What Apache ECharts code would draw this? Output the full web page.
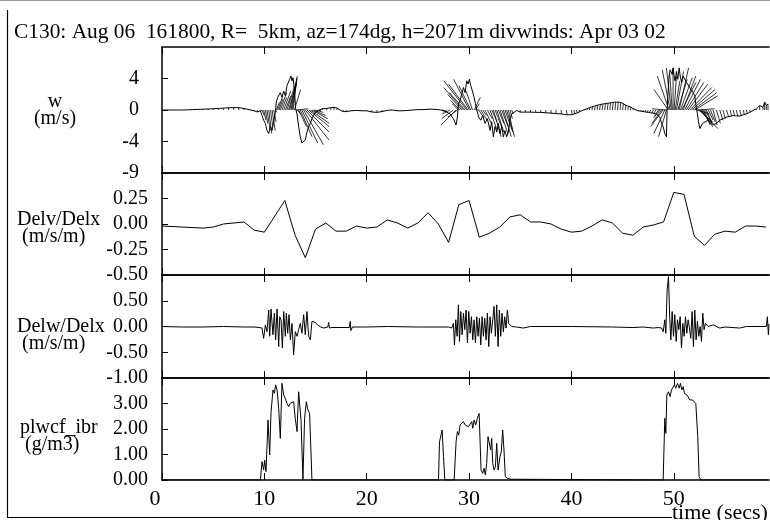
<!DOCTYPE html>
<html><head><meta charset="utf-8">
<script src="https://cdn.jsdelivr.net/npm/echarts@6/dist/echarts.min.js"></script>
<style>html,body{margin:0;padding:0;background:#fff}#c{width:770px;height:520px}</style>
</head><body><div id="c"></div><script>
const titleText = 'C130: Aug 06  161800, R=  5km, az=174dg, h=2071m divwinds: Apr 03 02';
const xTickValues = [0, 10, 20, 30, 40, 50];
const panelNames = ['w\n(m/s)', 'Delv/Delx\n (m/s/m)', 'Delw/Delx\n (m/s/m)', 'plwcf_ibr\n (g/m3)'];
const wTickValues = [-8, -4, 0, 4];
const wTickLabels = ['-9', '-4', '0', '4'];

// panel 1: [time s, w m/s, horizontal stick component m/s]
const wRows = [
[0,0,0],[0.5,0,0],[1,0,0],[1.5,0,0],[2,0,0],[2.5,0.02,0],[3,0.05,0],[3.5,0.08,0],[4,0.1,0],[4.5,0.13,0],[5,0.16,0],[5.5,0.2,0],[6,0.24,0],[6.5,0.28,0],[7,0.3,0],[7.5,0.3,0],[8,0.2,0],[8.5,0.05,0],[9,-0.1,0.1],[9.3,-0.25,0.1],
[9.61,-0.1,0.2],[9.77,-0.7,0.3],[9.93,-1.3,0.3],[10.1,-1.7,0.3],[10.26,-2.6,0.4],[10.42,-3.0,0.4],[10.59,-2.1,0.3],[10.75,-2.6,0.4],[10.91,-1.5,0.3],[11.07,-0.3,0.2],
[11.17,1.0,0.4],[11.3,1.6,0.6],[11.43,1.4,0.5],[11.56,2.2,0.8],[11.72,1.6,0.6],[11.89,2.4,0.9],[12.05,1.8,0.7],[12.21,3.1,1.0],[12.37,3.3,1.0],[12.47,3.9,0.9],[12.6,4.3,0.8],[12.7,3.7,0.6],[12.8,4.1,0.5],[12.93,2.6,0.8],[13.06,0.15,1.6],
[13.19,-0.5,0.5],[13.35,-2.1,1.0],[13.51,-3.4,1.5],[13.67,-4.2,2.0],[13.84,-4.4,2.5],[14.0,-3.8,3.0],[14.16,-2.8,2.8],[14.33,-2.1,2.6],[14.49,-1.7,2.4],[14.65,-1.1,2.0],[14.81,-0.7,1.5],[14.98,-0.3,1.0],
[15.3,-0.06,0.3],[15.63,0.15,0.1],[16.1,0.2,0],[16.5,0.3,0],[16.8,0.35,0],[17.1,0.25,0],[17.4,0.0,0],[17.7,-0.2,0],[18,-0.2,0],[18.5,-0.1,0],[19,-0.05,0],[19.5,-0.1,0],[20,-0.1,0],[20.5,-0.25,0],[21,-0.3,0],[21.5,-0.2,0],[22,-0.05,0],[22.5,0,0],[23,-0.1,0],[23.5,-0.1,0],[24,-0.05,0],[24.5,0,0],[25,0.05,0],[25.5,0.05,0],[26,0.1,0],[26.5,0.1,0],[27,0.05,0],
[27.17,0,0],[27.5,-0.06,-0.2],[27.82,-0.27,-0.5],[28.15,-0.5,-1.0],[28.47,-1.1,-1.5],[28.73,-1.9,-1.9],[28.86,-0.9,-1.2],
[28.96,0.8,-0.8],[29.12,1.2,-1.2],[29.29,2.0,-1.8],[29.45,2.85,-2.5],[29.61,2.2,-2.0],[29.77,3.7,-2.9],[29.9,3.3,-2.5],[30.03,3.9,-2.0],[30.16,3.1,-1.5],[30.33,2.4,-0.8],[30.49,1.6,0.8],[30.62,0.8,0.5],
[30.75,0,0.3],[30.94,-0.9,0.6],[31.14,-1.3,0.8],[31.33,-0.7,0.5],[31.56,-1.7,0.8],[31.79,-1.1,0.6],[32.05,-2.6,0.9],[32.21,-1.5,0.7],[32.37,-3.4,1.0],[32.54,-2.1,0.8],[32.7,-2.8,0.9],[32.86,-1.7,0.7],[33.02,-3.0,1.0],[33.19,-2.1,0.8],[33.35,-3.4,1.0],[33.51,-2.6,0.9],[33.67,-3.4,1.0],[33.84,-2.8,0.6],[34.0,-1.1,0.3],[34.16,-0.5,0.2],
[34.65,-0.06,0],[35.0,-0.27,0],[35.5,-0.27,0],[36,-0.27,0],[36.5,-0.3,0],[37,-0.3,0],[37.5,-0.35,0],[38,-0.4,0],[38.5,-0.45,0],[39,-0.5,0],[39.5,-0.6,0.1],[40,-0.6,0.1],[40.25,-0.5,0.1],[40.5,-0.4,0.1],[40.75,-0.25,0.1],
[41,-0.1,0.1],[41.25,0.05,0.1],[41.5,0.15,0.1],[41.75,0.3,0.1],[42,0.4,0.1],[42.25,0.5,0.1],[42.5,0.6,0.1],[42.75,0.68,0.1],[43,0.75,0.1],[43.25,0.8,0.1],[43.5,0.85,0.1],[43.75,0.9,0.1],[44,0.95,0.1],[44.25,1.0,0.1],[44.5,1.0,0.1],[44.75,0.98,0.1],[45,0.85,0.1],[45.25,0.65,0.1],[45.5,0.5,0.1],[45.75,0.4,0.1],[46,0.2,0.1],[46.25,0.05,0.1],[46.5,-0.1,0.1],[46.75,-0.15,0.1],[47,-0.2,0],[47.25,-0.25,0],[47.5,-0.3,-0.1],[47.75,-0.35,-0.2],[48,-0.4,-0.2],[48.25,-0.5,-0.3],[48.5,-0.7,-0.5],[48.65,-1.0,-0.8],
[48.8,-1.7,-1.2],[48.96,-2.1,-1.6],[49.12,-3.0,-1.4],[49.28,-3.4,-1.0],
[49.35,0.15,-1.9],[49.45,2.6,-1.8],[49.54,4.3,-1.5],[49.64,5.1,-1.0],[49.74,5.35,-0.6],[49.84,4.5,-0.3],
[49.93,5.35,0],[50.03,4.3,0.3],[50.13,3.7,0.6],[50.26,4.9,0.9],[50.39,3.9,1.2],[50.52,5.35,1.2],[50.65,4.1,1.5],[50.78,3.5,1.8],[50.91,4.3,1.6],[51.07,3.9,2.0],[51.24,3.5,2.2],[51.4,3.3,2.5],[51.56,2.85,2.8],[51.72,2.6,3.0],[51.89,2.2,3.0],[52.05,1.8,2.9],
[52.21,0.15,2.3],[52.31,-0.5,1.5],[52.41,-1.5,1.8],[52.54,-2.35,2.3],[52.67,-2.15,1.5],[52.8,-1.7,1.0],[52.93,-1.9,0.8],[53.06,-1.5,0.8],[53.19,-1.7,0.7],[53.38,-1.3,0.6],[53.58,-1.5,0.6],[53.84,-1.9,0.5],[54.16,-1.7,0.5],[54.49,-1.3,0.4],[54.8,-1.1,0.3],[55.14,-0.9,0.3],[55.5,-0.8,0.2],[55.79,-0.7,0.2],[56.1,-0.75,0.2],[56.44,-0.77,0.2],[56.8,-0.6,0.1],[57.09,-0.5,0.1],[57.4,-0.3,0.1],[57.74,-0.06,0],[58.07,0.15,0],[58.39,0.56,0],[58.72,0.35,0],[58.88,1.0,0],[59.04,0.56,0],[59.2,0.77,0]
];

// panel 2: Delv/Delx (m/s/m)
const delvData = [[0,-0.02],[2,-0.03],[4,-0.04],[5,-0.03],[6,0.0],[8,0.02],[9,-0.06],[10,-0.08],[12,0.23],[13,-0.11],[14,-0.33],[15,-0.05],[16,0.01],[17,-0.07],[18,-0.07],[19,-0.02],[20,-0.04],[21,-0.03],[22,0.04],[23,0.01],[24,-0.04],[25,0.01],[26,0.11],[27,0.0],[28,-0.18],[29,0.19],[30,0.23],[31,-0.13],[32,-0.09],[33,-0.03],[34,0.07],[35,0.09],[36,0.02],[37,0.02],[38,0.0],[39,-0.05],[40,-0.08],[41,-0.07],[42,-0.02],[43,0.04],[44,0.01],[45,-0.09],[46,-0.11],[47,-0.03],[48,-0.01],[49,0.02],[50,0.31],[51,0.29],[52,-0.12],[53,-0.21],[54,-0.10],[55,-0.07],[56,-0.08],[57,-0.02],[58,-0.02],[59,-0.03]];

// panel 3: Delw/Delx (m/s/m)
const delwData = [[0,0],[2,-0.01],[4,-0.01],[6,0],[8,-0.01],[9,-0.01],[9.5,-0.02],
[9.77,-0.03],[9.93,-0.23],[10.10,0.03],[10.26,-0.10],[10.42,0.32],[10.52,-0.19],[10.65,0.34],[10.84,-0.16],[10.98,0.26],[11.10,-0.26],[11.24,0.34],[11.40,-0.39],[11.50,0.19],[11.63,0.13],[11.76,-0.42],[11.89,0.29],[12.05,-0.19],[12.15,0.26],[12.28,-0.13],[12.41,0.23],[12.54,-0.26],[12.70,0.06],[12.86,-0.55],[13.02,-0.10],[13.19,-0.19],[13.35,-0.06],[13.51,0.06],[13.67,-0.13],[13.84,0.23],[14.00,-0.16],[14.16,0.29],[14.33,-0.19],[14.49,-0.26],[14.65,0.10],[14.81,0.13],[14.98,0.08],[15.2,0.03],[15.5,-0.01],[15.8,-0.03],
[16.2,-0.01],[16.28,0.08],[16.36,-0.03],[16.6,-0.02],[18.3,-0.02],[18.39,0.10],[18.45,-0.08],[18.6,-0.01],[20,-0.01],[22,0],[25,-0.01],[28,-0.01],
[28.31,-0.03],[28.47,0.06],[28.57,-0.36],[28.70,0.13],[28.83,-0.19],[28.96,0.42],[29.06,-0.29],[29.19,0.29],[29.32,-0.16],[29.45,0.26],[29.58,-0.06],[29.71,0.32],[29.84,-0.32],[29.97,0.29],[30.10,-0.13],[30.23,0.19],[30.36,-0.26],[30.49,0.13],[30.62,-0.32],[30.75,0.19],[30.88,-0.19],[31.01,0.16],[31.14,-0.36],[31.27,0.19],[31.40,-0.19],[31.53,0.16],[31.66,-0.26],[31.79,0.26],[31.92,-0.39],[32.05,0.19],[32.18,-0.13],[32.31,0.13],[32.44,0.39],[32.57,-0.19],[32.70,0.42],[32.83,-0.39],[32.96,0.32],[33.09,-0.19],[33.22,0.26],[33.35,-0.10],[33.48,0.19],[33.61,-0.03],[33.74,0.32],[33.87,0.06],[34.16,0.0],[34.65,-0.01],[35.3,-0.03],[36,0],[40,0],[44,-0.01],[46,-0.02],[47,-0.01],[48,-0.03],[48.5,-0.02],
[48.80,-0.03],[48.96,-0.10],[49.12,0.13],[49.22,-0.13],[49.35,0.71],[49.48,0.97],[49.61,0.13],[49.71,-0.26],[49.84,0.29],[49.97,-0.19],[50.10,0.23],[50.23,-0.29],[50.36,0.13],[50.49,-0.06],[50.62,0.19],[50.75,-0.42],[50.88,0.06],[51.01,-0.19],[51.14,0.19],[51.27,-0.13],[51.40,0.13],[51.53,-0.03],[51.66,-0.23],[51.79,0.29],[51.92,-0.39],[52.05,0.32],[52.18,-0.26],[52.31,0.10],[52.44,-0.19],[52.57,0.0],[52.70,-0.29],[52.83,0.26],[52.96,-0.06],[53.09,0.06],[53.35,0.0],[53.84,0.03],[54.49,-0.03],[55,-0.01],[56.44,-0.03],[57.09,0],[59.04,0],[59.14,0.19],[59.24,-0.16],[59.3,0.05]];

// panel 4: plwcf_ibr (g/m3)
const lwcData = [[0,0],[9.61,0],[9.77,0.72],[9.93,0.39],[10.03,0.78],[10.16,0.33],[10.36,2.35],[10.52,0.98],[10.65,2.64],[10.75,2.61],[10.84,3.53],[10.98,3.40],[11.10,3.73],[11.24,3.53],[11.40,2.81],[11.56,1.63],[11.72,3.79],[11.89,3.33],[12.05,3.2],[12.21,3.01],[12.37,2.88],[12.54,3.01],[12.70,2.94],[12.86,3.07],[13.02,2.42],[13.19,1.90],[13.35,3.46],[13.45,3.40],[13.58,2.35],[13.77,0],[13.87,0],[13.93,2.42],[14.10,3.07],[14.25,2.75],[14.33,2.68],[14.42,2.61],[14.65,0],
[27.01,0],[27.11,1.50],[27.24,1.57],[27.37,1.96],[27.50,0.92],[27.63,0],[28.54,0],[28.73,1.50],[28.86,1.90],[28.99,1.76],[29.12,2.16],[29.29,2.22],[29.45,2.29],[29.61,2.16],[29.77,2.22],[29.94,2.09],[30.1,2.16],[30.26,2.29],[30.36,2.03],[30.49,2.35],[30.65,2.16],[30.81,2.42],[30.98,2.61],[31.07,1.57],[31.17,0.39],[31.33,0.26],[31.46,0.46],[31.59,0.2],[31.72,0.65],[31.85,1.70],[31.98,1.63],[32.11,1.18],[32.21,1.63],[32.31,0.65],[32.44,0.39],[32.57,0.52],[32.70,1.44],[32.83,0.39],[33.02,0.92],[33.15,1.11],[33.28,1.96],[33.41,1.18],[33.54,0.13],[33.74,0.07],[33.93,0],[34.06,0.03],[34.2,0],
[48.96,0],[49.12,2.42],[49.22,1.83],[49.32,3.33],[49.48,3.46],[49.64,3.27],[49.77,3.53],[49.93,3.46],[50.06,3.73],[50.19,3.6],[50.36,3.79],[50.52,3.6],[50.65,3.79],[50.78,3.53],[50.91,3.66],[51.04,3.4],[51.17,3.46],[51.3,3.33],[51.43,3.27],[51.56,3.14],[51.69,3.07],[51.82,3.14],[51.98,3.07],[52.15,3.0],[52.25,2.94],[52.34,1.70],[52.47,0.13],[52.57,0.2],[52.67,0],[52.8,0.07],[52.9,0],[59.3,0]];

const FONT = '"Liberation Serif", "DejaVu Serif", serif';
const XMAX = 59.3;
const panels = [
  {top: 47, height: 126, min: -8, max: 8, interval: 4, margin: 23, fmt: v => wTickLabels[wTickValues.indexOf(v)] ?? ''},
  {top: 173, height: 102, min: -0.5, max: 0.5, interval: 0.25, margin: 14, fmt: v => v.toFixed(2)},
  {top: 275, height: 103, min: -1, max: 1, interval: 0.5, margin: 14, fmt: v => v.toFixed(2)},
  {top: 378, height: 102, min: 0, max: 4, interval: 1, margin: 14, fmt: v => v.toFixed(2)}
];
const axisLineStyle = {color: '#000', width: 1.5};
const grids = panels.map(p => ({left: 162, right: 1, top: p.top, height: p.height, containLabel: false}));
const xAxes = [];
panels.forEach((p, i) => {
  ['bottom', 'top'].forEach(pos => {
    xAxes.push({
      type: 'value', gridIndex: i, position: pos, min: 0, max: XMAX, interval: 10,
      axisLine: {show: true, onZero: false, lineStyle: axisLineStyle},
      axisTick: {show: true, inside: true, length: 7, customValues: xTickValues, lineStyle: {color: '#000', width: 1}},
      splitLine: {show: false},
      axisLabel: {
        show: i === 3 && pos === 'bottom', margin: 8, customValues: xTickValues,
        color: '#000', fontFamily: FONT, fontSize: 22,
        formatter: v => v === 0 ? '{z|0}' : String(v),
        rich: {z: {fontFamily: FONT, fontSize: 22, color: '#000', padding: [0, 14, 0, 0]}}
      }
    });
  });
});
const yAxes = panels.map((p, i) => ({
  type: 'value', gridIndex: i, min: p.min, max: p.max, interval: p.interval,
  axisLine: {show: true, onZero: false, lineStyle: axisLineStyle},
  axisTick: {show: true, inside: true, length: 6, lineStyle: {color: '#000', width: 1}},
  splitLine: {show: false},
  axisLabel: {show: true, showMaxLabel: false, margin: p.margin, color: '#000', fontFamily: FONT, fontSize: 20,
    padding: [6, 0, 0, 0], formatter: p.fmt}
}));

const lineSeries = (data, i) => ({
  type: 'line', xAxisIndex: i * 2, yAxisIndex: i, data: data, showSymbol: false, symbol: 'none',
  lineStyle: {color: '#000', width: 1}, silent: true, clip: true
});

const series = [
  {
    type: 'custom', xAxisIndex: 0, yAxisIndex: 0, data: wRows, clip: true, silent: true,
    encode: {x: 0, y: 1},
    renderItem: function (params, api) {
      const t = api.value(0), w = api.value(1), u = api.value(2);
      const p0 = api.coord([t, 0]);
      const p1 = api.coord([t, w]);
      const k = api.size([0, 1])[1];
      return {type: 'line', shape: {x1: p0[0], y1: p0[1], x2: p0[0] + u * k, y2: p1[1]},
        style: {stroke: '#000', lineWidth: 0.8}};
    }
  },
  lineSeries(wRows.map(r => [r[0], r[1]]), 0),
  lineSeries(delvData, 1),
  lineSeries(delwData, 2),
  lineSeries(lwcData, 3)
];

const nameStyle = {fill: '#000', font: '20px ' + FONT, lineHeight: 17};
const graphic = [
  {type: 'polyline', shape: {points: [[7.5, 10], [7.5, 517.5], [672, 517.5]]}, style: {stroke: '#000', lineWidth: 1.2, fill: null}, silent: true},
  {type: 'line', shape: {x1: 0, y1: 0.5, x2: 770, y2: 0.5}, style: {stroke: '#999', lineWidth: 1}, silent: true},
  {type: 'text', left: 14, top: 22, style: {text: titleText, fill: '#000', font: '21.4px ' + FONT}, silent: true},
  {type: 'text', x: 55, y: 110, style: Object.assign({text: panelNames[0], align: 'center', verticalAlign: 'middle'}, nameStyle), silent: true},
  {type: 'text', x: 17, y: 228, style: Object.assign({text: panelNames[1], align: 'left', verticalAlign: 'middle'}, nameStyle), silent: true},
  {type: 'text', x: 17, y: 335, style: Object.assign({text: panelNames[2], align: 'left', verticalAlign: 'middle'}, nameStyle), silent: true},
  {type: 'text', x: 20, y: 436, style: Object.assign({text: panelNames[3], align: 'left', verticalAlign: 'middle'}, nameStyle), silent: true},
  {type: 'text', x: 672, y: 513, style: {text: 'time (secs)', fill: '#000', font: '22px ' + FONT, align: 'left', verticalAlign: 'middle'}, silent: true}
];

const chart = echarts.init(document.getElementById('c'), null, {renderer: 'canvas'});
chart.setOption({
  animation: false, backgroundColor: '#fff',
  grid: grids, xAxis: xAxes, yAxis: yAxes, series: series, graphic: graphic
});
</script></body></html>
